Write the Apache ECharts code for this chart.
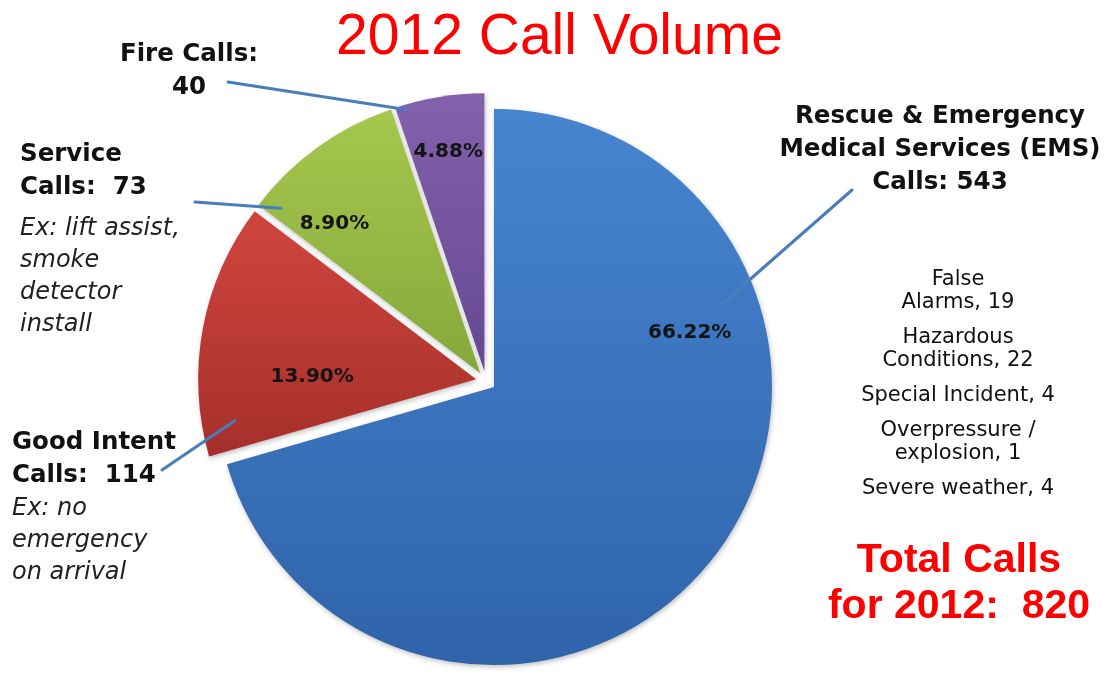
<!DOCTYPE html>
<html>
<head>
<meta charset="utf-8">
<script src="https://cdn.jsdelivr.net/npm/echarts@6/dist/echarts.min.js"></script>
<style>html,body{margin:0;padding:0;background:#fff}#chart{width:1119px;height:677px}</style>
</head>
<body>
<div id="chart"></div>
<script>
// ---- data ----
const categories = ['Rescue & Emergency Medical Services (EMS)', 'Good Intent', 'Service', 'Fire'];
const callValues = [543, 114, 73, 40];
const calloutHeads = ['Rescue & Emergency\nMedical Services (EMS)\nCalls: ', 'Good Intent\nCalls:  ', 'Service\nCalls:  ', 'Fire Calls:\n'];
const calloutExamples = ['', 'Ex: no\nemergency\non arrival', 'Ex: lift assist,\nsmoke\ndetector\ninstall', ''];
const otherCategories = ['False\nAlarms', 'Hazardous\nConditions', 'Special Incident', 'Overpressure /\nexplosion', 'Severe weather'];
const otherValues = [19, 22, 4, 1, 4];
const chartTitle = '2012 Call Volume';
const year = 2012;

const mainSum = callValues.reduce((a, b) => a + b, 0);
const totalCalls = mainSum + otherValues.reduce((a, b) => a + b, 0);

// ---- layout / style ----
const CX = 486, CY = 381, R = 278, OFFSET = 10;
const sliceColors = [['#4784D0', '#2F64AA'], ['#D0453E', '#A62F2B'], ['#A6C74D', '#86A83B'], ['#8461AD', '#654891']];
const pctSpot = [[0.294, 0.73], [0.32, 0.59], [0.25, 0.75], [0.5, 0.8]];
const calloutPos = [
  {x: 940, y: 100.5, align: 'center'},
  {x: 12, y: 426.5, align: 'left'},
  {x: 20, y: 138.5, align: 'left'},
  {x: 189, y: 38.5, align: 'center'}
];
const calloutGap = [0, 0, 8, 0];
const leaderStart = [[852, 190], [162, 470], [195, 202], [228, 82]];
const leaderEnd = [[0.277, 0.86], [0.12, 0.88], [0.07, 0.93], [0.12, 0.98]];

function sliceGeom(i) {
  let before = 0;
  for (let j = 0; j < i; j++) before += callValues[j];
  const a0 = before / mainSum * 360, a1 = (before + callValues[i]) / mainSum * 360;
  const mid = (a0 + a1) / 2 * Math.PI / 180;
  return {a0, a1, vx: CX + OFFSET * Math.sin(mid), vy: CY - OFFSET * Math.cos(mid)};
}
function pointInSlice(i, f, rf) {
  const g = sliceGeom(i);
  const a = (g.a0 + f * (g.a1 - g.a0)) * Math.PI / 180;
  return [g.vx + rf * R * Math.sin(a), g.vy - rf * R * Math.cos(a)];
}

const pieData = categories.map((name, i) => ({
  name, value: callValues[i], selected: true,
  itemStyle: {
    color: {type: 'linear', x: 0, y: 0, x2: 0, y2: 1,
      colorStops: [{offset: 0, color: sliceColors[i][0]}, {offset: 1, color: sliceColors[i][1]}]}
  }
}));
const plainData = categories.map((name, i) => ({name, value: callValues[i]}));

function othersText() {
  return otherCategories.map((c, i) => {
    const lines = (c + ', ' + otherValues[i]).split('\n');
    return lines.map(l => '{a|' + l + '}').join('\n');
  }).join('\n{g| }\n');
}

const leaderLines = categories.map((c, i) => {
  const e = pointInSlice(i, leaderEnd[i][0], leaderEnd[i][1]);
  return {
    type: 'line', z: 100, silent: true,
    shape: {x1: leaderStart[i][0], y1: leaderStart[i][1], x2: e[0], y2: e[1]},
    style: {stroke: '#4A7EBB', lineWidth: 3, lineCap: 'round'}
  };
});

const transparentPie = {
  type: 'pie', center: [CX, CY], radius: R, startAngle: 90, clockwise: true,
  selectedMode: false, silent: true, emphasis: {disabled: true},
  itemStyle: {color: 'rgba(0,0,0,0)'},
  labelLine: {show: false}
};

const chart = echarts.init(document.getElementById('chart'));
chart.setOption({
  animation: false,
  backgroundColor: '#ffffff',
  title: [
    {text: chartTitle, left: 'center', top: 5,
     textStyle: {fontFamily: 'Liberation Sans', fontSize: 57, fontWeight: 'normal', color: '#FF0000'}},
    {text: othersText(), left: 953, top: 263.5, textAlign: 'center',
     textStyle: {fontWeight: 'normal', rich: {
       a: {fontFamily: 'DejaVu Sans', fontSize: 21, fontWeight: 'normal', lineHeight: 23, color: '#111', align: 'center'},
       g: {fontSize: 1, lineHeight: 12}
     }}},
    {text: 'Total Calls\nfor ' + year + ':  ' + totalCalls, left: 954, top: 533, textAlign: 'center',
     textStyle: {fontFamily: 'Liberation Sans', fontSize: 41, fontWeight: 'bold', lineHeight: 46, color: '#FF0000'}}
  ],
  graphic: leaderLines,
  series: [
    {
      type: 'pie', center: [CX, CY], radius: R, startAngle: 90, clockwise: true,
      selectedMode: 'multiple', selectedOffset: OFFSET,
      emphasis: {disabled: true}, silent: true,
      itemStyle: {shadowBlur: 5, shadowColor: 'rgba(0,0,0,0.25)', shadowOffsetX: 1, shadowOffsetY: 2},
      select: {itemStyle: {borderWidth: 0}},
      data: pieData,
      label: {show: false},
      labelLine: {show: false}
    },
    Object.assign({}, transparentPie, {
      data: plainData,
      label: {
        show: true, position: 'inside',
        formatter: p => (p.value / totalCalls * 100).toFixed(2) + '%',
        fontFamily: 'DejaVu Sans', fontWeight: 'bold', fontSize: 20, color: '#141414'
      },
      labelLayout: p => {
        const s = pctSpot[p.dataIndex];
        const pt = pointInSlice(p.dataIndex, s[0], s[1]);
        return {x: pt[0], y: pt[1], align: 'center', verticalAlign: 'middle'};
      }
    }),
    Object.assign({}, transparentPie, {
      data: plainData,
      label: {
        show: true, position: 'inside', width: 420, overflow: 'none',
        formatter: p => {
          const i = p.dataIndex;
          let s = '{b|' + calloutHeads[i] + p.value + '}';
          if (calloutExamples[i]) {
            if (calloutGap[i]) s += '\n{g| }';
            s += '\n{i|' + calloutExamples[i] + '}';
          }
          return s;
        },
        rich: {
          b: {fontFamily: 'DejaVu Sans', fontWeight: 'bold', fontSize: 24.5, lineHeight: 33, color: '#111'},
          i: {fontFamily: 'DejaVu Sans', fontStyle: 'italic', fontWeight: 'normal', fontSize: 24, lineHeight: 32, color: '#222'},
          g: {fontSize: 1, lineHeight: 8}
        }
      },
      labelLayout: p => {
        const c = calloutPos[p.dataIndex];
        return {x: c.x, y: c.y, align: c.align, verticalAlign: 'top'};
      }
    })
  ]
});
</script>
</body>
</html>
